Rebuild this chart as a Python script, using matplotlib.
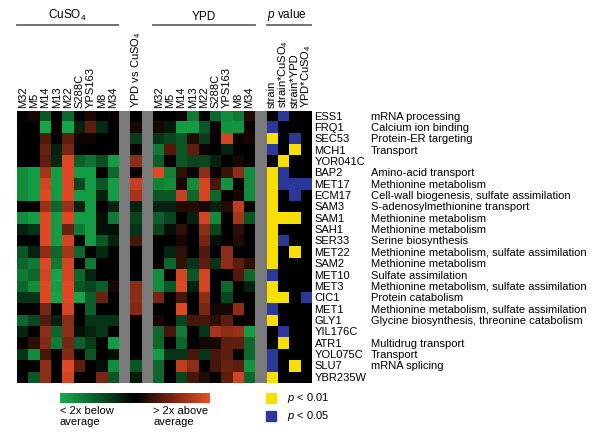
import numpy as np
import matplotlib
matplotlib.use("Agg")
import matplotlib.pyplot as plt
from matplotlib.colors import LinearSegmentedColormap, Normalize, to_rgb
from matplotlib.patches import Rectangle
from matplotlib.cm import ScalarMappable

plt.rcParams['font.family'] = ['Liberation Sans', 'DejaVu Sans']
plt.rcParams['mathtext.fontset'] = 'custom'
plt.rcParams['mathtext.rm'] = 'Liberation Sans'
plt.rcParams['mathtext.it'] = 'Liberation Sans:italic'

strains = ['M32', 'M5', 'M14', 'M13', 'M22', 'S288C', 'YPS163', 'M8', 'M34']
ptests = ['strain', 'strain*CuSO$_4$', 'strain*YPD', 'YPD*CuSO$_4$']

genes = ['ESS1', 'FRQ1', 'SEC53', 'MCH1', 'YOR041C', 'BAP2', 'MET17', 'ECM17',
         'SAM3', 'SAM1', 'SAH1', 'SER33', 'MET22', 'SAM2', 'MET10', 'MET3',
         'CIC1', 'MET1', 'GLY1', 'YIL176C', 'ATR1', 'YOL075C', 'SLU7', 'YBR235W']

functions = ['mRNA processing', 'Calcium ion binding', 'Protein-ER targeting',
             'Transport', '', 'Amino-acid transport', 'Methionine metabolism',
             'Cell-wall biogenesis, sulfate assimilation',
             'S-adenosylmethionine transport', 'Methionine metabolism',
             'Methionine metabolism', 'Serine biosynthesis',
             'Methionine metabolism, sulfate assimilation',
             'Methionine metabolism', 'Sulfate assimilation',
             'Methionine metabolism, sulfate assimilation', 'Protein catabolism',
             'Methionine metabolism, sulfate assimilation',
             'Glycine biosynthesis, threonine catabolism', '',
             'Multidrug transport', 'Transport', 'mRNA splicing', '']

# log-ratio relative to average, scaled so +-1 = 2x above / below
cuso4 = [
    [0, 0.1, -0.5, 0, -0.6, 0, 0.12, 0, 0.05],
    [0, 0, -0.95, 0.05, -0.95, -0.2, 0.4, -0.25, 0],
    [0, 0, 0.35, 0, 0.4, 0.05, 0.05, 0, 0],
    [0, 0, 0.45, -0.2, 0.5, 0, 0, 0, 0],
    [0, 0, 0.4, -0.25, 0.95, -0.55, -0.65, -0.45, -0.9],
    [-0.8, -0.9, 0.7, -0.9, 0.95, -0.9, -0.9, 0, -0.6],
    [-0.8, -0.9, 0.9, -0.9, 0.95, -0.4, -0.9, -0.5, -0.9],
    [-0.8, -0.9, 0.95, -0.9, 0.95, -0.9, -0.9, -0.2, -0.9],
    [0, 0, 0.65, -0.6, 0.65, -0.2, -0.9, 0, -0.2],
    [-0.8, -0.9, 0.95, -0.9, 0.95, -0.9, -0.9, -0.1, -0.7],
    [-0.2, -0.3, 0.95, -0.9, 0.45, -0.7, -0.9, -0.1, -0.1],
    [0, 0, 0.95, -0.9, 0.9, 0, -0.9, -0.5, -0.2],
    [-0.5, -0.2, 0.6, -0.6, 0.7, -0.6, 0, -0.25, 0],
    [-0.6, -0.7, 0.95, -0.7, 0.9, 0, -0.7, 0, 0],
    [-0.7, -0.6, 0.9, -0.95, 0.9, -0.6, -0.2, 0, 0],
    [-0.6, -0.8, 0.95, -0.9, 0.95, -0.5, -0.4, -0.55, 0.1],
    [-0.3, -0.3, 0.95, -0.95, 0.95, -0.95, -0.55, 0.45, 0],
    [0, 0, 0.5, 0, 0.9, 0, -0.55, 0, 0],
    [-0.6, -0.4, 0.35, -0.2, 0.6, 0, -0.3, -0.3, -0.3],
    [-0.2, 0, 0.6, -0.6, 0.6, -0.1, -0.2, -0.3, 0],
    [0, 0.2, 0.55, -0.7, 0.5, -0.55, -0.35, 0, -0.9],
    [-0.3, -0.8, 0.3, 0, 0.55, 0, -0.5, 0, -0.1],
    [0, 0, 0.6, 0, 0.95, 0.4, 0, -0.1, -0.8],
    [0, -0.5, 0.6, 0, 0.9, 0, 0, 0.5, -0.5],
]

ypd_vs_cuso4 = [0, 0.1, -0.35, 0.05, 0.6, 0.05, 0.85, 0.7, -0.2, -0.4, -0.3, 0.3,
                0, 0, 0, 0.6, 0.6, 0.55, 0, 0, 0, 0, -0.5, -0.15]

ypd = [
    [0, 0, 0.05, -0.7, 0, -0.6, -0.8, -0.7, 0.15],
    [0.1, -0.15, -0.9, -0.9, -0.5, 0, -0.85, -0.85, 0],
    [-0.3, -0.4, -0.5, 0.15, -0.35, 0, 0.9, 0.05, 0.1],
    [-0.7, 0.35, -0.5, 0.4, 0.05, 0, -0.2, 0, 0],
    [-0.55, 0, -0.5, -0.4, -0.4, -0.2, 0, 0.1, 0],
    [0.95, -0.75, 0.2, 0.05, 0.6, 0.05, 0.25, 0.6, -0.8],
    [-0.75, -0.8, 0.1, -0.8, 0.9, 0.3, -0.85, 0, -0.8],
    [-0.5, -0.5, 0.85, -0.6, 0.9, -0.6, 0, 0.1, -0.8],
    [-0.2, -0.2, 0.15, 0.15, 0.1, -0.2, 0.15, 0.8, 0],
    [-0.55, -0.4, 0, -0.2, 0.9, -0.8, 0, 0.7, -0.5],
    [-0.4, -0.1, 0.2, 0, 0.6, -0.4, 0, 0.2, 0],
    [0, 0, 0.1, 0, 0.5, -0.1, 0, 0.15, 0],
    [0, -0.2, 0.2, 0, 0.35, 0, 0.6, 0, 0],
    [0, -0.6, 0.2, -0.3, 0.4, -0.3, 0.6, 0.4, 0.2],
    [-0.8, 0, 0.9, -0.5, 0.9, 0, 0, 0.35, -0.6],
    [-0.8, -0.5, 0.95, -0.2, 0.9, 0, -0.6, 0, -0.2],
    [0.5, 0, 0.3, 0, 0.6, 0, -0.4, 0, 0],
    [0, 0, 0.95, 0, 0.5, 0.1, 0.1, 0.6, 0],
    [0.1, 0, -0.4, 0.3, 0.3, 0.2, 0.4, 0, 0],
    [-0.6, 0.3, -0.7, 0, -0.3, 0.7, 0.6, 0.65, -0.9],
    [-0.6, 0, -0.6, 0, 0.1, 0.1, 0.4, 0.4, -0.6],
    [-0.9, -0.3, -0.3, 0.3, -0.3, 0.3, 0.4, 0, -0.6],
    [-0.6, 0, 0.8, 0.6, 0, 0.3, 0.45, 0.4, -0.85],
    [-0.6, 0, -0.4, 0.3, 0.15, 0, 0.4, 0.9, -0.6],
]

# 0 = n.s., 1 = p < 0.05, 2 = p < 0.01
pvals = [
    [0, 1, 0, 0], [1, 0, 0, 0], [2, 0, 1, 0], [1, 0, 2, 0], [0, 2, 0, 0],
    [2, 1, 0, 0], [2, 1, 1, 1], [2, 0, 1, 0], [2, 0, 0, 0], [2, 2, 2, 0],
    [2, 0, 0, 0], [2, 1, 0, 0], [2, 0, 2, 0], [2, 0, 0, 0], [1, 0, 0, 0],
    [2, 0, 0, 0], [2, 2, 0, 1], [1, 0, 0, 0], [2, 0, 0, 0], [0, 1, 0, 0],
    [0, 2, 0, 0], [1, 0, 0, 0], [1, 0, 2, 0], [2, 0, 0, 0],
]

green = '#17ad4c'
red = '#ea4c27'
grey = '#7a7a7a'
yellow = '#f7e000'
blue = '#2c3897'
cmap = LinearSegmentedColormap.from_list('gr', [green, '#000000', red])
norm = Normalize(-1, 1)

nrow = len(genes)
cu = cmap(norm(np.array(cuso4)))[:, :, :3]
yv = cmap(norm(np.array(ypd_vs_cuso4)))[:, None, :3]
yp = cmap(norm(np.array(ypd)))[:, :, :3]
pcol = np.array([to_rgb('#000000'), to_rgb(blue), to_rgb(yellow)])
pp = pcol[np.array(pvals)]
gcol = np.tile(np.array(to_rgb(grey)), (nrow, 1, 1))
img = np.concatenate([cu, gcol, yv, gcol, yp, gcol, pp], axis=1)

fig = plt.figure(figsize=(6, 4.38), dpi=100)
W, H = 600, 438
ax = fig.add_axes([17 / W, 1 - 383.3 / H, 294.7 / W, 272.3 / H])
ax.imshow(img, aspect='auto', interpolation='nearest')
ax.set_xlim(-0.5, img.shape[1] - 0.5)
ax.set_ylim(nrow - 0.5, -0.5)
ax.axis('off')

fs = 8
# column labels
for i, s in enumerate(strains):
    ax.text(i, -0.75, s, rotation=90, ha='center', va='bottom', fontsize=fs, clip_on=False)
    ax.text(12 + i, -0.75, s, rotation=90, ha='center', va='bottom', fontsize=fs, clip_on=False)
ax.text(10, -0.75, 'YPD vs CuSO$_4$', rotation=90, ha='center', va='bottom', fontsize=fs, clip_on=False)
for i, s in enumerate(ptests):
    ax.text(22 + i, -0.75, s, rotation=90, ha='center', va='bottom', fontsize=fs,
            clip_on=False, linespacing=1.0)

# group headers
ax.plot([-0.5, 8.4], [-8.1, -8.1], color='#666666', lw=1.3, clip_on=False)
ax.text(3.95, -8.3, 'CuSO$_4$', fontsize=8.5, ha='center', va='bottom', clip_on=False)
ax.plot([11.5, 20.5], [-8.1, -8.1], color='#666666', lw=1.3, clip_on=False)
ax.text(16.0, -8.3, 'YPD', fontsize=8.5, ha='center', va='bottom', clip_on=False)
ax.plot([21.6, 25.4], [-8.1, -8.1], color='#666666', lw=1.3, clip_on=False)
ax.text(21.6, -8.3, '$p$ value', fontsize=8.5, ha='left', va='bottom', clip_on=False)

# row labels
for r, (g, f) in enumerate(zip(genes, functions)):
    ax.text(25.75, r, g, ha='left', va='center', fontsize=fs, clip_on=False)
    ax.text(30.74, r, f, ha='left', va='center', fontsize=fs, clip_on=False)

# colour scale
cax = fig.add_axes([60 / W, 1 - 403 / H, 150 / W, 10 / H])
cb = fig.colorbar(ScalarMappable(norm=norm, cmap=cmap), cax=cax, orientation='horizontal')
cb.set_ticks([])
cb.outline.set_visible(False)
ax.text(3.29, 25.5, '< 2x below\naverage', ha='left', va='top', fontsize=fs,
        linespacing=1.1, clip_on=False)
ax.text(11.5, 25.5, '> 2x above\naverage', ha='left', va='top', fontsize=fs,
        linespacing=1.1, clip_on=False)

# p-value legend
for yc, col, lab in [(24.82, yellow, '$p$ < 0.01'), (26.41, blue, '$p$ < 0.05')]:
    ax.add_patch(Rectangle((21.47, yc - 0.44), 0.88, 0.88, color=col, clip_on=False))
    ax.text(23.3, yc, lab, ha='left', va='center', fontsize=fs, clip_on=False)

fig.savefig('out.png', dpi=100)
